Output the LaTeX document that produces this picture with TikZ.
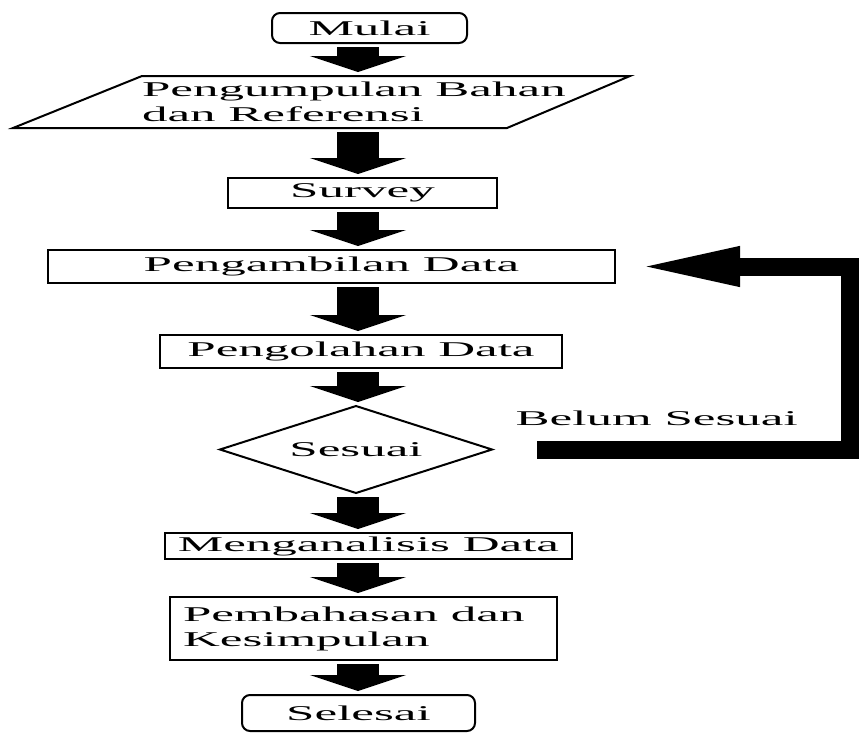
\documentclass[tikz,border=0pt]{standalone}
\usepackage{fontspec}
\setmainfont{Liberation Serif}[FakeStretch=2.43]
\usetikzlibrary{positioning,shapes.geometric,arrows.meta}

\tikzset{
	txt/.style={font=\fontsize{21}{25}\selectfont},
	box/.style={txt, draw, line width=2pt, inner sep=0pt, outer sep=0pt},
	endbox/.style={box, rounded corners=8pt},
	decision/.style={box, diamond, shape aspect=3.13},
	down/.style={line width=42pt, -{Triangle[width=96pt,length=16pt]}, shorten <=4pt, shorten >=4pt},
	back/.style={line width=18pt, line join=miter, -{Triangle[width=35pt,length=108pt]}, shorten <=45pt, shorten >=17pt},
}

\begin{document}
\begin{tikzpicture}[x=1pt,y=1pt]
	\useasboundingbox (0,0) rectangle (863,-732);
	\coordinate (axis) at (358,0);

	\node[endbox, minimum width=195pt, minimum height=30pt] (mulai) at (369.5,-28) {Mulai};
	\node[box, draw=none, text width=440pt, align=flush left, minimum height=52pt, below=33pt of mulai, xshift=-7.5pt] (bahan) {Pengumpulan Bahan\\dan Referensi};
	\node[box, minimum width=269pt, minimum height=30pt, below=50pt of bahan, xshift=0.5pt] (survey) {Survey};
	\node[box, minimum width=567pt, minimum height=33pt, below=42pt of survey, xshift=-31pt] (ambil) {Pengambilan Data};
	\node[box, minimum width=402pt, minimum height=33pt, below=52pt of ambil, xshift=29.5pt] (olah) {Pengolahan Data};
	\node[decision, minimum width=272pt, minimum height=87pt, below=38pt of olah, xshift=-5pt] (sesuai) {Sesuai};
	\node[box, minimum width=407pt, minimum height=26pt, below=40pt of sesuai, xshift=12.5pt] (analisis) {Menganalisis Data};
	\node[box, text width=361pt, inner xsep=13pt, align=flush left, minimum height=63pt, below=38pt of analisis, xshift=-5pt] (bahas) {Pembahasan dan\\Kesimpulan};
	\node[endbox, minimum width=233pt, minimum height=36pt, below=35pt of bahas, xshift=-5pt] (selesai) {Selesai};

	% slanted frame round the input step
	\draw[line width=2pt] (bahan.north west) -- ([xshift=48pt]bahan.north east) -- ([xshift=-75pt]bahan.south east) -- ([xshift=-129pt]bahan.south west) -- cycle;

	\draw[down] (mulai.south -| axis) -- (bahan.north -| axis);
	\draw[down] (bahan.south -| axis) -- (survey.north -| axis);
	\draw[down] (survey.south -| axis) -- (ambil.north -| axis);
	\draw[down] (ambil.south -| axis) -- (olah.north -| axis);
	\draw[down] (olah.south -| axis) -- (sesuai.north -| axis);
	\draw[down] (sesuai.south -| axis) -- (analisis.north -| axis);
	\draw[down] (analisis.south -| axis) -- (bahas.north -| axis);
	\draw[down] (bahas.south -| axis) -- (selesai.north -| axis);

	% back to data collection
	\draw[back] (sesuai.east) -| ([xshift=235pt]ambil.east) node[txt, pos=0.23, yshift=31pt] {Belum Sesuai} -- (ambil.east);
\end{tikzpicture}
\end{document}
